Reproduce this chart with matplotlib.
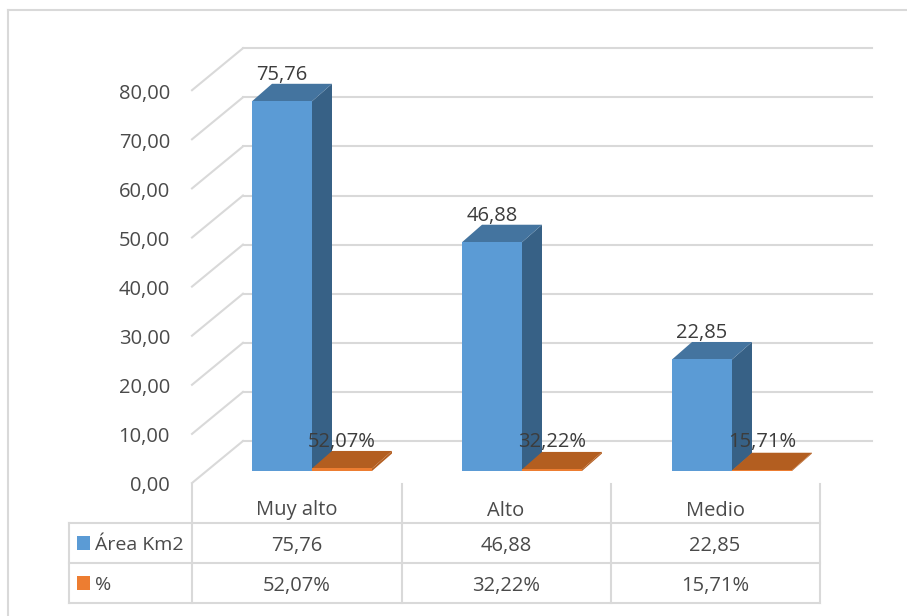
import matplotlib
matplotlib.use("Agg")
import matplotlib.pyplot as plt  # noqa
from matplotlib.patches import Polygon, Rectangle
from matplotlib.transforms import Affine2D

categories = ["Muy alto", "Alto", "Medio"]
area_km2 = [75.76, 46.88, 22.85]
percent = [52.07, 32.22, 15.71]
area_labels = ["75,76", "46,88", "22,85"]
percent_labels = ["52,07%", "32,22%", "15,71%"]
y_ticks = [0, 10, 20, 30, 40, 50, 60, 70, 80]
series_names = ["Área Km2", "%"]

W, H = 907, 616
SLOT = 210.0  # px per category
UNIT = 4.88  # px per value unit on the bars
WALL_UNIT = 4.91  # px per value unit on the walls
X0, Y0 = 282.0, 471.0  # px of category 0, value 0
BAR_W = 60 / SLOT
DX, DY = 20 / SLOT, 17.5 / UNIT  # bar depth in data units

GRID = "#d9d9d9"
TEXT = "#4a4a4a"
BLUE = ("#5b9bd5", "#44749f", "#376186")
ORANGE = ("#ed7d31", "#b35e20", "#b35e20")
FS = 14.5

plt.rcParams["font.family"] = ["Open Sans", "DejaVu Sans"]

fig = plt.figure(figsize=(W / 100, H / 100), dpi=100)
ax = fig.add_axes([0, 0, 1, 1])
ax.set_xlim(-X0 / SLOT, (W - X0) / SLOT)
ax.set_ylim((Y0 - H) / UNIT, Y0 / UNIT)
ax.axis("off")

# pixel coordinates (y down) for chart furniture
px = Affine2D().scale(1, -1).translate(0, H)


def line(xs, ys, lw=1.5, color=GRID):
    ax.plot(xs, ys, color=color, lw=lw, transform=px, solid_capstyle="projecting",
            zorder=1, clip_on=False)


def label(x, y, s, color=TEXT, size=FS, **kw):
    kw.setdefault("ha", "center")
    ax.text(x, y, s, va="center_baseline", color=color, fontsize=size, zorder=5, **kw)


def bar3d(c, value, colors, offset):
    left = c + offset
    right = left + BAR_W
    # side, top, front
    ax.add_patch(Polygon([(right, 0), (right + DX, DY), (right + DX, value + DY),
                          (right, value)], color=colors[2], lw=0, zorder=3))
    ax.add_patch(Polygon([(left, value), (right, value),
                          (right + DX, value + DY), (left + DX, value + DY)],
                         color=colors[1], lw=0, zorder=3))
    ax.add_patch(Rectangle((left, 0), BAR_W, value, color=colors[0], lw=0,
                           zorder=3))


# outer frame, only top and left are visible
line([8, 907], [10, 10])
line([8, 8], [10, 616])

# back wall gridlines and side wall diagonals
for t in y_ticks:
    y = 483 - t * WALL_UNIT
    line([243, 872], [y - 42, y - 42])
    line([192, 243], [y, y - 42])
    label(170, y + 1, f"{t:.2f}".replace(".", ","), ha="right", transform=px)

# bars; the second series is plotted as a fraction so it sits near zero
for i in range(len(categories)):
    bar3d(i, area_km2[i], BLUE, -BAR_W / 2)
    bar3d(i, percent[i] / 100, ORANGE, BAR_W / 2)
    label(i, area_km2[i] + 29 / UNIT, area_labels[i], color="#3c3c3c")
    label(i + BAR_W, 31 / UNIT, percent_labels[i], color="#3c3c3c")

# data table
for x in [192, 402, 611, 820]:
    line([x, x], [484, 603])
for y in [523, 563, 603]:
    line([69, 820], [y, y])
line([69, 69], [523, 603])

for i, cat in enumerate(categories):
    cx = 296.5 + i * 209.3
    label(cx, 508, cat, transform=px)
    label(cx, 544, area_labels[i], transform=px)
    label(cx, 584, percent_labels[i], transform=px)

for name, colors, y in zip(series_names, [BLUE, ORANGE], [543, 583]):
    ax.add_patch(Rectangle((77, y - 7), 13, 14, color=colors[0], lw=0,
                           transform=px))
    label(95, y, name, ha="left", size=14, transform=px)

fig.savefig("out.png", dpi=100)
